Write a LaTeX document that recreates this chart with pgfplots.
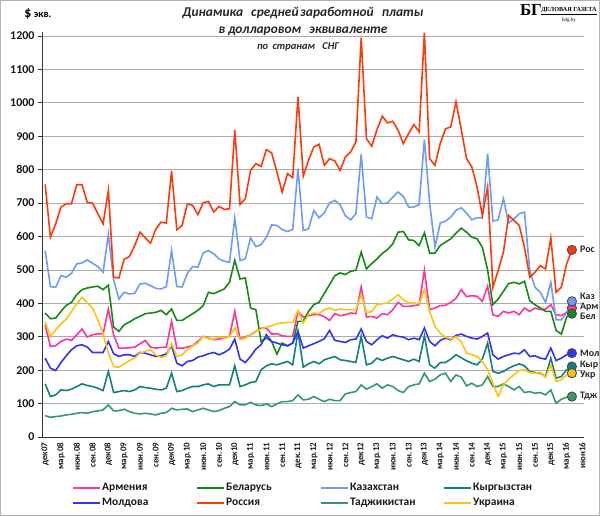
\documentclass[border=0pt]{standalone}
\usepackage{fontspec}
\setmainfont{Carlito}
\newfontfamily\logofont{Liberation Serif}
\usepackage{pgfplots}
\pgfplotsset{compat=1.18}
\definecolor{carm}{HTML}{FF3399}
\definecolor{cbel}{HTML}{138A13}
\definecolor{ckaz}{HTML}{6E9BF5}
\definecolor{ckyr}{HTML}{14807A}
\definecolor{cmol}{HTML}{3333F0}
\definecolor{crus}{HTML}{FF3A0A}
\definecolor{ctaj}{HTML}{35996A}
\definecolor{cukr}{HTML}{FFC20E}
\begin{document}
\begin{tikzpicture}
\useasboundingbox (0,0) rectangle (600bp,516bp);
\draw[gray!60, line width=1bp] (0.5bp,0.5bp) rectangle (599.5bp,515.5bp);
\node[font=\bfseries] at (38bp,502bp) {{\fontsize{14}{14}\selectfont\$} {\fontsize{10.5}{10}\selectfont экв.}};
\node[font=\bfseries\itshape\fontsize{13.5}{13}\selectfont, text=black!85] at (303bp,503bp) {Динамика\hspace{5bp} средней\hspace{-1.5bp} заработной\hspace{5bp} платы};
\node[font=\bfseries\itshape\fontsize{13.5}{13}\selectfont, text=black!85] at (303bp,485bp) {в долларовом\hspace{5bp} эквиваленте};
\node[font=\bfseries\itshape\fontsize{10.5}{10}\selectfont, text=black!85] at (298bp,469bp) {по\hspace{2bp} странам\hspace{5bp} СНГ};
\node[font=\logofont\bfseries\fontsize{17}{17}\selectfont, inner sep=0pt] at (531bp,506bp) {БГ};
\node[font=\logofont\bfseries\fontsize{6.2}{7}\selectfont, inner sep=0pt] at (569bp,505bp) {\underline{ДЕЛОВАЯ ГАЗЕТА}};
\node[font=\logofont\fontsize{5}{5}\selectfont, inner sep=0pt] at (569bp,496bp) {bdg.by};
\begin{axis}[
  at={(42bp,79bp)}, anchor=south west,
  scale only axis, width=542bp, height=405bp,
  xmin=-0.6, xmax=102.3, ymin=0, ymax=1212,
  clip=false,
  axis x line*=bottom, axis y line*=left,
  axis line style={black!80, line width=0.8bp},
  ytick={0,100,...,1200},
  ymajorgrids, grid style={gray!65, line width=0.8bp},
  xtick={0,3,...,102},
  xticklabels={дек07,мар.08,июн.08,сен.08,дек08,мар.09,июн.09,сен.09,дек09,мар.10,июн.10,сен.10,дек10,мар.11,июн.11,сен.11,дек.11,мар.12,июн.12,сен.12,дек12,мар.13,июн.13,сен.13,дек13,мар.14,июн.14,сен.14,дек14,мар.15,июн.15,сен.15,дек15,мар.16,июн16},
  xticklabel style={rotate=90, anchor=east, font=\bfseries\fontsize{9}{9}\selectfont, inner sep=1.5bp, text=black!90},
  yticklabel style={font=\bfseries\fontsize{12}{12}\selectfont, text=black!90},
  /pgf/number format/assume math mode=true,
  /pgf/number format/1000 sep={},
  x tick style={draw=none},
  y tick style={black!80, line width=0.8bp},
  tick align=outside, major tick length=4bp,
  every axis plot/.append style={line width=1.6bp, mark=none},
]
\addplot[color=carm] coordinates {
(0,335)(1,271)(2,273)(3,286)(4,293)(5,289)(6,306)(7,323)(8,299)(9,306)(10,309)(11,309)(12,383)(13,306)(14,266)(15,266)(16,267)(17,269)(18,279)(19,289)(20,269)(21,266)(22,268)(23,269)(24,346)(25,266)(26,266)
(27,269)(28,273)(29,286)(30,301)(31,296)(32,291)(33,293)(34,296)(35,301)(36,376)(37,293)(38,299)(39,306)(40,316)(41,326)(42,326)(43,308)(44,309)(45,303)(46,301)(47,301)(48,376)(49,359)(50,363)(51,366)(52,366)(53,360)
(54,349)(55,369)(56,363)(57,366)(58,371)(59,369)(60,449)(61,359)(62,361)(63,356)(64,369)(65,366)(66,381)(67,403)(68,391)(69,391)(70,393)(71,396)(72,499)(73,381)(74,386)(75,393)(76,394)(77,403)(78,415)(79,441)(80,420)
(81,423)(82,421)(83,406)(84,451)(85,366)(86,361)(87,376)(88,371)(89,376)(90,366)(91,386)(92,376)(93,386)(94,381)(95,383)(96,396)(97,366)(98,363)(99,373)(100,386)};
\addplot[color=cbel] coordinates {
(0,371)(1,354)(2,356)(3,376)(4,394)(5,403)(6,426)(7,441)(8,446)(9,449)(10,451)(11,441)(12,454)(13,329)(14,316)(15,336)(16,344)(17,354)(18,361)(19,369)(20,371)(21,373)(22,379)(23,366)(24,383)(25,349)(26,349)
(27,359)(28,369)(29,379)(30,393)(31,433)(32,429)(33,436)(34,443)(35,463)(36,529)(37,473)(38,476)(39,386)(40,381)(41,286)(42,296)(43,286)(44,248)(45,281)(46,273)(47,281)(48,346)(49,346)(50,376)(51,396)(52,403)(53,430)
(54,456)(55,483)(56,491)(57,486)(58,496)(59,499)(60,553)(61,503)(62,519)(63,533)(64,549)(65,561)(66,578)(67,613)(68,615)(69,590)(70,588)(71,573)(72,611)(73,550)(74,550)(75,573)(76,583)(77,593)(78,610)(79,625)(80,613)
(81,598)(82,593)(83,568)(84,500)(85,396)(86,413)(87,436)(88,459)(89,463)(90,458)(91,466)(92,408)(93,396)(94,386)(95,376)(96,376)(97,319)(98,308)(99,359)(100,369)};
\addplot[color=ckaz] coordinates {
(0,558)(1,450)(2,448)(3,483)(4,478)(5,490)(6,518)(7,521)(8,530)(9,520)(10,510)(11,493)(12,606)(13,470)(14,413)(15,433)(16,428)(17,430)(18,458)(19,460)(20,453)(21,445)(22,443)(23,450)(24,558)(25,450)(26,449)
(27,490)(28,510)(29,508)(30,551)(31,558)(32,548)(33,533)(34,526)(35,523)(36,656)(37,528)(38,533)(39,596)(40,570)(41,576)(42,598)(43,635)(44,633)(45,621)(46,615)(47,621)(48,803)(49,618)(50,623)(51,678)(52,656)(53,671)
(54,701)(55,708)(56,695)(57,662)(58,650)(59,668)(60,846)(61,658)(62,653)(63,718)(64,698)(65,701)(66,718)(67,733)(68,720)(69,688)(70,688)(71,696)(72,890)(73,700)(74,568)(75,640)(76,646)(77,658)(78,678)(79,686)(80,670)
(81,650)(82,656)(83,656)(84,848)(85,646)(86,650)(87,713)(88,640)(89,653)(90,668)(91,673)(92,498)(93,448)(94,433)(95,403)(96,463)(97,351)(98,351)(99,371)(100,406)};
\addplot[color=ckyr] coordinates {
(0,159)(1,121)(2,126)(3,141)(4,139)(5,143)(6,151)(7,159)(8,154)(9,151)(10,146)(11,139)(12,196)(13,133)(14,136)(15,139)(16,136)(17,141)(18,151)(19,148)(20,146)(21,143)(22,141)(23,146)(24,191)(25,136)(26,139)
(27,146)(28,151)(29,151)(30,156)(31,159)(32,151)(33,156)(34,156)(35,156)(36,213)(37,151)(38,156)(39,163)(40,166)(41,201)(42,213)(43,219)(44,216)(45,221)(46,226)(47,216)(48,315)(49,209)(50,219)(51,226)(52,219)(53,231)
(54,236)(55,241)(56,231)(57,229)(58,226)(59,223)(60,301)(61,216)(62,221)(63,236)(64,229)(65,236)(66,241)(67,236)(68,231)(69,226)(70,233)(71,226)(72,303)(73,216)(74,206)(75,223)(76,223)(77,233)(78,246)(79,237)(80,228)
(81,221)(82,216)(83,233)(84,281)(85,196)(86,191)(87,196)(88,206)(89,213)(90,219)(91,213)(92,196)(93,193)(94,191)(95,181)(96,236)(97,176)(98,181)(99,201)(100,211)};
\addplot[color=cmol] coordinates {
(0,236)(1,206)(2,199)(3,223)(4,243)(5,261)(6,273)(7,276)(8,269)(9,253)(10,253)(11,253)(12,286)(13,249)(14,241)(15,246)(16,246)(17,241)(18,253)(19,251)(20,246)(21,241)(22,243)(23,249)(24,273)(25,221)(26,213)
(27,226)(28,229)(29,239)(30,243)(31,249)(32,253)(33,246)(34,253)(35,263)(36,293)(37,233)(38,223)(39,241)(40,263)(41,276)(42,306)(43,286)(44,281)(45,276)(46,273)(47,281)(48,316)(49,266)(50,273)(51,279)(52,286)(53,294)
(54,319)(55,289)(56,286)(57,283)(58,291)(59,293)(60,323)(61,286)(62,276)(63,291)(64,303)(65,296)(66,306)(67,301)(68,299)(69,291)(70,296)(71,291)(72,326)(73,286)(74,273)(75,289)(76,296)(77,291)(78,304)(79,308)(80,301)
(81,296)(82,293)(83,301)(84,311)(85,246)(86,233)(87,241)(88,246)(89,251)(90,249)(91,261)(92,241)(93,243)(94,236)(95,233)(96,266)(97,229)(98,236)(99,246)(100,251)};
\addplot[color=crus] coordinates {
(0,756)(1,598)(2,638)(3,688)(4,698)(5,698)(6,755)(7,755)(8,702)(9,700)(10,668)(11,638)(12,738)(13,478)(14,476)(15,532)(16,540)(17,573)(18,613)(19,596)(20,580)(21,622)(22,643)(23,640)(24,796)(25,620)(26,633)
(27,698)(28,693)(29,665)(30,701)(31,705)(32,673)(33,690)(34,681)(35,683)(36,918)(37,696)(38,713)(39,798)(40,818)(41,810)(42,860)(43,850)(44,793)(45,733)(46,788)(47,776)(48,1018)(49,781)(50,828)(51,868)(52,876)(53,813)
(54,833)(55,826)(56,798)(57,838)(58,853)(59,883)(60,1195)(61,893)(62,870)(63,920)(64,960)(65,940)(66,945)(67,918)(68,878)(69,908)(70,935)(71,913)(72,1210)(73,833)(74,813)(75,878)(76,922)(77,928)(78,1003)(79,920)(80,833)
(81,808)(82,748)(83,663)(84,748)(85,448)(86,498)(87,553)(88,663)(89,648)(90,633)(91,568)(92,478)(93,493)(94,513)(95,503)(96,596)(97,433)(98,448)(99,518)(100,560)};
\addplot[color=ctaj] coordinates {
(0,64)(1,59)(2,61)(3,63)(4,66)(5,68)(6,71)(7,73)(8,71)(9,76)(10,78)(11,81)(12,96)(13,78)(14,79)(15,83)(16,76)(17,71)(18,69)(19,71)(20,69)(21,66)(22,71)(23,73)(24,86)(25,81)(26,83)
(27,84)(28,76)(29,81)(30,86)(31,81)(32,76)(33,79)(34,86)(35,91)(36,106)(37,96)(38,96)(39,104)(40,96)(41,94)(42,99)(43,91)(44,99)(45,106)(46,106)(47,109)(48,126)(49,111)(50,113)(51,121)(52,113)(53,106)
(54,113)(55,109)(56,109)(57,129)(58,133)(59,136)(60,156)(61,143)(62,151)(63,159)(64,146)(65,156)(66,151)(67,139)(68,133)(69,151)(70,156)(71,159)(72,191)(73,166)(74,173)(75,186)(76,191)(77,166)(78,186)(79,179)(80,153)
(81,161)(82,151)(83,156)(84,181)(85,151)(86,151)(87,159)(88,151)(89,141)(90,151)(91,133)(92,136)(93,131)(94,133)(95,126)(96,141)(97,101)(98,113)(99,119)(100,121)};
\addplot[color=cukr] coordinates {
(0,345)(1,301)(2,321)(3,338)(4,353)(5,376)(6,399)(7,418)(8,401)(9,386)(10,351)(11,309)(12,251)(13,211)(14,209)(15,219)(16,229)(17,236)(18,251)(19,256)(20,261)(21,246)(22,238)(23,243)(24,279)(25,241)(26,246)
(27,261)(28,273)(29,281)(30,301)(31,294)(32,293)(33,299)(34,296)(35,301)(36,326)(37,291)(38,296)(39,306)(40,316)(41,323)(42,329)(43,333)(44,339)(45,341)(46,343)(47,343)(48,379)(49,341)(50,366)(51,371)(52,369)(53,381)
(54,386)(55,379)(56,383)(57,381)(58,381)(59,381)(60,426)(61,371)(62,376)(63,396)(64,399)(65,401)(66,413)(67,426)(68,411)(69,401)(70,401)(71,399)(72,441)(73,376)(74,331)(75,311)(76,299)(77,293)(78,300)(79,285)(80,251)
(81,246)(82,241)(83,226)(84,201)(85,161)(86,121)(87,156)(88,173)(89,186)(90,199)(91,201)(92,193)(93,191)(94,193)(95,179)(96,216)(97,166)(98,171)(99,186)(100,191)};
% end markers
\addplot[only marks, mark=*, mark size=4.6bp, line width=0.9bp, draw=black!70, fill=crus] coordinates {(100,560)};
\addplot[only marks, mark=*, mark size=4.6bp, line width=0.9bp, draw=black!70, fill=carm] coordinates {(100,386)};
\addplot[only marks, mark=*, mark size=4.6bp, line width=0.9bp, draw=black!70, fill=ckaz] coordinates {(100,406)};
\addplot[only marks, mark=*, mark size=4.6bp, line width=0.9bp, draw=black!70, fill=cbel] coordinates {(100,369)};
\addplot[only marks, mark=*, mark size=4.6bp, line width=0.9bp, draw=black!70, fill=cmol] coordinates {(100,251)};
\addplot[only marks, mark=*, mark size=4.6bp, line width=0.9bp, draw=black!70, fill=ckyr] coordinates {(100,211)};
\addplot[only marks, mark=*, mark size=4.6bp, line width=0.9bp, draw=black!70, fill=cukr] coordinates {(100,191)};
\addplot[only marks, mark=*, mark size=4.6bp, line width=0.9bp, draw=black!70, fill=ctaj] coordinates {(100,121)};
\begin{scope}[every node/.style={anchor=west, font=\bfseries\fontsize{10}{10}\selectfont, inner sep=0pt, text=black!85}]
\node at ([xshift=8bp]axis cs:100,563) {Рос};
\node at ([xshift=8bp]axis cs:100,422) {Каз};
\node at ([xshift=8bp]axis cs:100,390) {Арм};
\node at ([xshift=8bp]axis cs:100,360) {Бел};
\node at ([xshift=8bp]axis cs:100,251) {Мол};
\node at ([xshift=8bp]axis cs:100,216) {Кыр};
\node at ([xshift=8bp]axis cs:100,184) {Укр};
\node at ([xshift=8bp]axis cs:100,123) {Тдж};
\end{scope}
\end{axis}
% legend
\foreach \lx/\ly/\lc/\lt in {73/28/carm/Армения, 197/28/cbel/Беларусь, 321/28/ckaz/Казахстан, 444/28/ckyr/Кыргызстан, 73/13/cmol/Молдова, 197/13/crus/Россия, 321/13/ctaj/Таджикистан, 444/13/cukr/Украина}{
  \draw[\lc, line width=1.6bp] (\lx bp,\ly bp) -- ++(27bp,0bp);
  \node[anchor=mid west, inner sep=0pt, font=\bfseries\fontsize{11.5}{12}\selectfont, text=black!90] at ([xshift=29bp]\lx bp,\ly bp) {\lt};
}
\end{tikzpicture}
\end{document}
